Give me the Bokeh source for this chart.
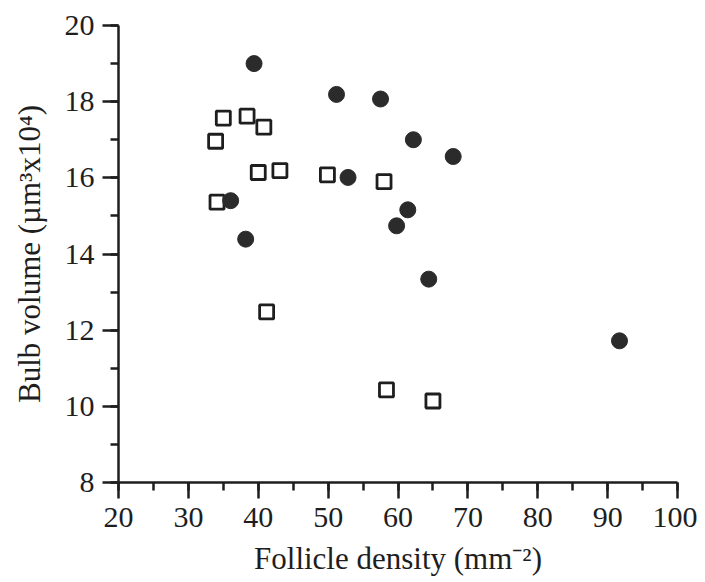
from bokeh.plotting import figure
from bokeh.models import Range1d, SingleIntervalTicker
from bokeh.embed import file_html
from bokeh.resources import INLINE

# Filled circles
circ_x = [39.4, 51.2, 52.85, 36.05, 38.2, 57.5, 62.2, 67.9, 61.4, 59.8, 64.4, 91.7]
circ_y = [19.0, 18.19, 16.01, 15.40, 14.39, 18.07, 17.0, 16.56, 15.16, 14.74, 13.34, 11.72]

# Open squares
sq_x = [33.9, 35.0, 38.4, 40.8, 40.0, 43.1, 49.9, 34.1, 58.0, 41.2, 58.35, 65.0]
sq_y = [16.96, 17.57, 17.62, 17.33, 16.14, 16.19, 16.08, 15.36, 15.90, 12.48, 10.43, 10.14]

x_ticks = [20, 30, 40, 50, 60, 70, 80, 90, 100]
y_ticks = [8, 10, 12, 14, 16, 18, 20]

FONT = "Liberation Serif"
INK = "#1e1e1e"

p = figure(width=697, height=574, output_backend="svg", toolbar_location=None,
           x_range=Range1d(20, 100), y_range=Range1d(8, 20),
           min_border_left=118, min_border_top=25, min_border_right=20, min_border_bottom=92)
p.frame_width = 559
p.frame_height = 457
p.outline_line_color = None
p.xgrid.visible = False
p.ygrid.visible = False
p.background_fill_color = "white"
p.border_fill_color = "white"

p.xaxis.ticker = SingleIntervalTicker(interval=10, num_minor_ticks=2)
p.yaxis.ticker = SingleIntervalTicker(interval=2, num_minor_ticks=2)

for ax in (p.xaxis[0], p.yaxis[0]):
    ax.axis_line_color = INK
    ax.axis_line_width = 2.5
    ax.major_tick_line_color = INK
    ax.major_tick_line_width = 2.5
    ax.minor_tick_line_color = INK
    ax.minor_tick_line_width = 2.5
    ax.major_tick_in = 0
    ax.major_tick_out = 16
    ax.minor_tick_in = 0
    ax.minor_tick_out = 8
    ax.major_label_text_font = FONT
    ax.major_label_text_font_size = "30px"
    ax.major_label_text_color = INK
    ax.axis_label_text_font = FONT
    ax.axis_label_text_font_size = "31px"
    ax.axis_label_text_font_style = "normal"
    ax.axis_label_text_color = INK

p.xaxis.axis_label = "Follicle density (mm⁻²)"
p.yaxis.axis_label = "Bulb volume (µm³x10⁴)"
p.xaxis.major_label_standoff = 9
p.yaxis.major_label_standoff = 8
p.xaxis.axis_label_standoff = 11
p.yaxis.axis_label_standoff = 15

p.scatter(sq_x, sq_y, marker="square", size=14, fill_color="white",
          line_color=INK, line_width=2.8)
p.scatter(circ_x, circ_y, marker="circle", size=16, fill_color="#2b2b2b",
          line_color="#2b2b2b", line_width=1)

open("out.html", "w").write(file_html(p, INLINE))
